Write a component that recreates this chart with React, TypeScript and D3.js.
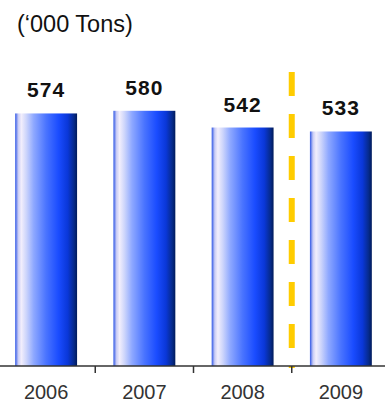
import React from "react";
import * as d3 from "d3";

const categories = ["2006", "2007", "2008", "2009"];
const values = [574, 580, 542, 533];
const unitLabel = "(‘000 Tons)";
const dividerAfterIndex = 2;

const W = 385;
const H = 403;

export default function App() {
  const x = d3.scaleBand<string>().domain(categories).range([-3, 390]).paddingInner(0.37).paddingOuter(0.185);
  const step = x.step();
  const y = d3.scaleLinear().domain([0, 700]).range([366, 58]);
  const baseY = y(0);
  const dividerX = (x(categories[dividerAfterIndex])! + x.bandwidth() + x(categories[dividerAfterIndex + 1])!) / 2;
  const tickXs = categories.slice(1).map((c) => x(c)! - (step - x.bandwidth()) / 2);

  return (
    <svg width={W} height={H} style={{ position: "absolute", left: 0, top: 0 }}>
      <defs>
        <linearGradient id="barGrad" x1="0" x2="1" y1="0" y2="0">
          <stop offset="0" stopColor="#2f56e6" />
          <stop offset="0.05" stopColor="#c9ccf5" />
          <stop offset="0.1" stopColor="#f2eefc" />
          <stop offset="0.18" stopColor="#cdd5fb" />
          <stop offset="0.3" stopColor="#8ea8ff" />
          <stop offset="0.5" stopColor="#4a74ff" />
          <stop offset="0.7" stopColor="#1a4cff" />
          <stop offset="0.85" stopColor="#0a37d8" />
          <stop offset="0.95" stopColor="#062a8a" />
          <stop offset="1" stopColor="#001a5a" />
        </linearGradient>
      </defs>
      <rect width={W} height={H} fill="#ffffff" />
      <text x={17} y={32} fontFamily="Liberation Sans, Arial, sans-serif" fontSize={23.5} fill="#111">
        {unitLabel}
      </text>
      {categories.map((c, i) => (
        <g key={c}>
          <rect x={x(c)} y={y(values[i])} width={x.bandwidth()} height={baseY - y(values[i])} fill="url(#barGrad)" />
          <text
            x={x(c)! + x.bandwidth() / 2}
            y={y(values[i]) - 16}
            textAnchor="middle"
            fontFamily="Liberation Sans, Arial, sans-serif"
            fontWeight="bold"
            fontSize={21}
            letterSpacing={1}
            fill="#111"
          >
            {values[i]}
          </text>
          <text
            x={x(c)! + x.bandwidth() / 2}
            y={399}
            textAnchor="middle"
            fontFamily="Liberation Sans, Arial, sans-serif"
            fontSize={20}
            fill="#333"
          >
            {c}
          </text>
        </g>
      ))}
      <line
        x1={dividerX}
        x2={dividerX}
        y1={72}
        y2={368}
        stroke="#ffcc00"
        strokeWidth={6}
        strokeDasharray="24 18"
      />
      <line x1={0} x2={W} y1={baseY} y2={baseY} stroke="#333" strokeWidth={1.5} />
      {tickXs.map((tx, i) => (
        <line key={i} x1={tx} x2={tx} y1={baseY} y2={baseY + 7} stroke="#333" strokeWidth={1.5} />
      ))}
    </svg>
  );
}
